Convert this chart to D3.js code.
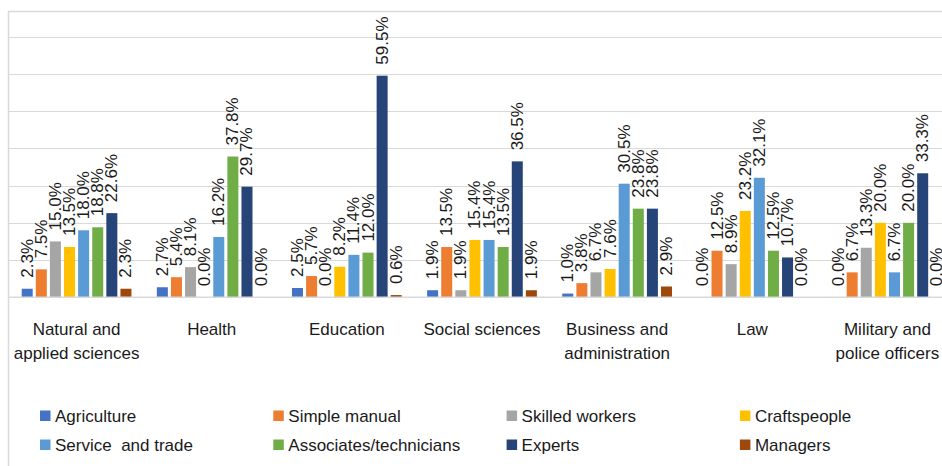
<!DOCTYPE html>
<html>
<head>
<meta charset="utf-8">
<script src="https://cdn.jsdelivr.net/npm/d3@7"></script>
<style>
  html, body { margin: 0; padding: 0; background: #fff; }
  svg { display: block; font-family: "Liberation Sans", Arial, sans-serif; }
</style>
</head>
<body>
<svg id="chart" width="942" height="466"></svg>
<script>
const categories = [
  ["Natural and", "applied sciences"],
  ["Health"],
  ["Education"],
  ["Social sciences"],
  ["Business and", "administration"],
  ["Law"],
  ["Military and", "police officers"]
];
const seriesNames = ["Agriculture", "Simple manual", "Skilled workers", "Craftspeople",
                     "Service  and trade", "Associates/technicians", "Experts", "Managers"];
const seriesColors = ["#4472C4", "#ED7D31", "#A5A5A5", "#FFC000",
                      "#5B9BD5", "#70AD47", "#264478", "#9E480E"];
const agriculture   = [2.3, 2.7, 2.5, 1.9, 1.0, 0.0, 0.0];
const simpleManual  = [7.5, 5.4, 5.7, 13.5, 3.8, 12.5, 6.7];
const skilled       = [15.0, 8.1, 0.0, 1.9, 6.7, 8.9, 13.3];
const craftspeople  = [13.5, 0.0, 8.2, 15.4, 7.6, 23.2, 20.0];
const serviceTrade  = [18.0, 16.2, 11.4, 15.4, 30.5, 32.1, 6.7];
const associates    = [18.8, 37.8, 12.0, 13.5, 23.8, 12.5, 20.0];
const experts       = [22.6, 29.7, 59.5, 36.5, 23.8, 10.7, 33.3];
const managers      = [2.3, 0.0, 0.6, 1.9, 2.9, 0.0, 0.0];
const yTicks = [0, 10, 20, 30, 40, 50, 60, 70];

const seriesValues = [agriculture, simpleManual, skilled, craftspeople,
                      serviceTrade, associates, experts, managers];

const svg = d3.select("#chart");

// chart frame
svg.append("rect")
  .attr("x", 8.5).attr("y", 11.5)
  .attr("width", 960).attr("height", 480)
  .attr("fill", "none").attr("stroke", "#d9d9d9").attr("stroke-width", 1.5);

const plotLeft = 9, plotRight = 955, baseY = 297.3, topY = 36.6;

const x0 = d3.scaleBand().domain(d3.range(categories.length)).range([plotLeft, plotRight]);
const x1 = d3.scaleBand().domain(d3.range(seriesNames.length))
  .range([0, x0.bandwidth()]).paddingInner(0.22).paddingOuter(0.9);
const y = d3.scaleLinear().domain([0, 70]).range([baseY, topY]);

// gridlines
svg.append("g").selectAll("line").data(yTicks.slice(1)).join("line")
  .attr("x1", plotLeft).attr("x2", 942)
  .attr("y1", d => Math.round(y(d)) + 0.5).attr("y2", d => Math.round(y(d)) + 0.5)
  .attr("stroke", "#d9d9d9").attr("stroke-width", 1);

// bars
const groups = svg.append("g").selectAll("g").data(categories).join("g")
  .attr("transform", (d, i) => `translate(${x0(i)},0)`);

groups.each(function(cat, ci) {
  const g = d3.select(this);
  const vals = seriesValues.map((arr, si) => ({si, v: arr[ci]}));
  g.selectAll("rect").data(vals).join("rect")
    .attr("x", d => x1(d.si))
    .attr("width", x1.bandwidth())
    .attr("y", d => y(d.v))
    .attr("height", d => baseY - y(d.v))
    .attr("fill", d => seriesColors[d.si]);
  g.selectAll("text").data(vals).join("text")
    .attr("transform", d => `translate(${x1(d.si) + x1.bandwidth() / 2},${y(d.v) - 11}) rotate(-90)`)
    .attr("dominant-baseline", "central")
    .attr("text-anchor", "start")
    .attr("font-size", 17)
    .attr("fill", "#1a1a1a")
    .text(d => d.v.toFixed(1) + "%");
});

// baseline axis
svg.append("line")
  .attr("x1", plotLeft).attr("x2", 942)
  .attr("y1", baseY).attr("y2", baseY)
  .attr("stroke", "#d9d9d9").attr("stroke-width", 1.5);

// category labels
const xAxisG = svg.append("g");
categories.forEach((lines, i) => {
  const t = xAxisG.append("text")
    .attr("x", x0(i) + x0.bandwidth() / 2)
    .attr("y", 335)
    .attr("text-anchor", "middle")
    .attr("font-size", 17)
    .attr("fill", "#1a1a1a");
  lines.forEach((ln, k) => {
    t.append("tspan").attr("x", x0(i) + x0.bandwidth() / 2).attr("dy", k === 0 ? 0 : 24).text(ln);
  });
});

// legend
const legend = svg.append("g");
seriesNames.forEach((name, i) => {
  const col = i % 4, row = Math.floor(i / 4);
  const lx = 40 + col * 233.3, ly = 416 + row * 29;
  legend.append("rect").attr("x", lx).attr("y", ly - 5.5).attr("width", 10.5).attr("height", 10.5)
    .attr("fill", seriesColors[i]);
  legend.append("text").attr("x", lx + 15).attr("y", ly)
    .attr("dominant-baseline", "central")
    .attr("font-size", 17).attr("fill", "#1a1a1a")
    .style("white-space", "pre")
    .text(name);
});
</script>
</body>
</html>
